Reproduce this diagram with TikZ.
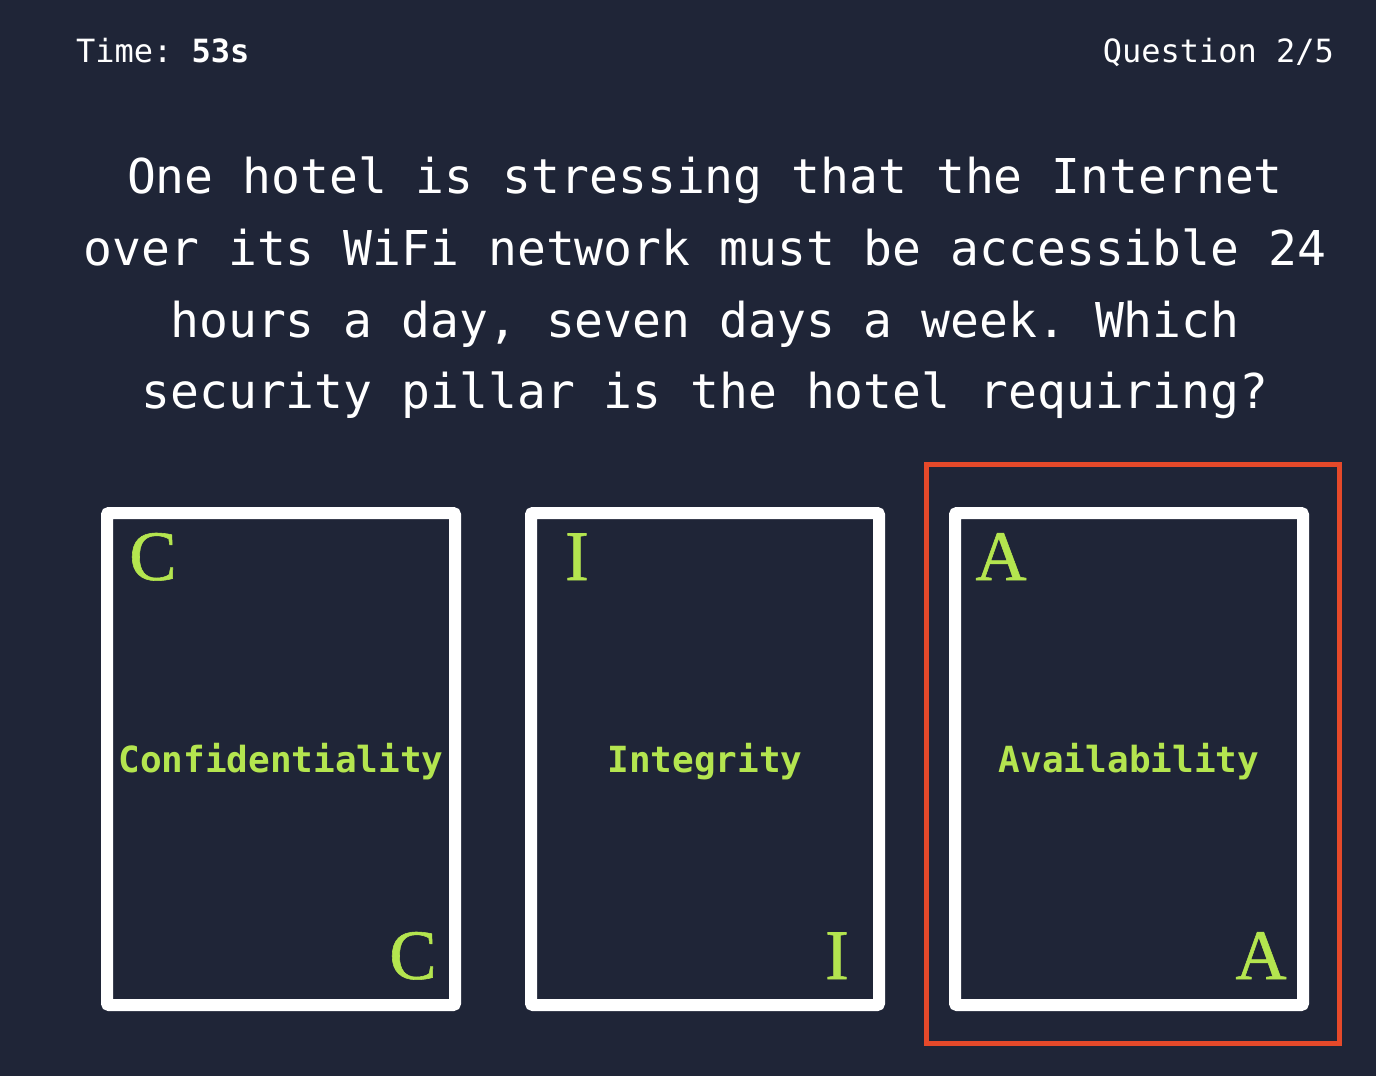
\documentclass[tikz,border=0pt]{standalone}
\usepackage{fontspec}
\setmainfont{Liberation Serif}
\setmonofont{DejaVu Sans Mono}
\newfontfamily\cardserif[FakeBold=0.8]{Liberation Serif}
\definecolor{bgnavy}{HTML}{1F2537}
\definecolor{limegreen}{HTML}{B4E54F}
\definecolor{hlred}{HTML}{E5492A}
\begin{document}
\begin{tikzpicture}[x=1pt,y=-1pt,
  txt/.style={inner sep=0pt,outer sep=0pt,text=white},
  header/.style={txt,font=\ttfamily\fontsize{32}{38}\selectfont},
  qline/.style={txt,anchor=base,font=\ttfamily\fontsize{48}{72}\selectfont},
  card/.style={draw=white,line width=12pt,rounded corners=2pt,fill=bgnavy,
    minimum width=348pt,minimum height=492pt,inner sep=0pt},
  cornerletter/.style={inner sep=0pt,anchor=base,text=limegreen,font=\cardserif\fontsize{71}{80}\selectfont},
  cardlabel/.style={inner sep=0pt,anchor=base,text=limegreen,font=\ttfamily\bfseries\fontsize{36}{40}\selectfont},
  selectbox/.style={draw=hlred,line width=5pt,minimum width=413pt,minimum height=579pt,inner sep=0pt}
]
\useasboundingbox (0,0) rectangle (1376,1076);
\fill[bgnavy] (0,0) rectangle (1376,1076);

\node[header,anchor=base west] (time) at (76,62) {Time: \textbf{53s}};
\node[header,anchor=base east] (qnum) at (1334,62) {Question 2/5};

\node[qline] (q1) at (705,193) {One hotel is stressing that the Internet};
\node[qline] (q2) at (705,265) {over its WiFi network must be accessible 24};
\node[qline] (q3) at (705,337) {hours a day, seven days a week. Which};
\node[qline] (q4) at (705,408) {security pillar is the hotel requiring?};

\node[selectbox] (sel) at (1133,754) {};

\foreach \cx/\L/\word/\nm in {281/C/Confidentiality/c, 705/I/Integrity/i, 1129/A/Availability/a}{
  \node[card] (card\nm) at (\cx,759) {};
  \node[cornerletter] (tl\nm) at (\cx-128,580) {\L};
  \node[cornerletter] (br\nm) at (\cx+132,979) {\L};
  \node[cardlabel] (lbl\nm) at (\cx,772) {\word};
}
\end{tikzpicture}
\end{document}
